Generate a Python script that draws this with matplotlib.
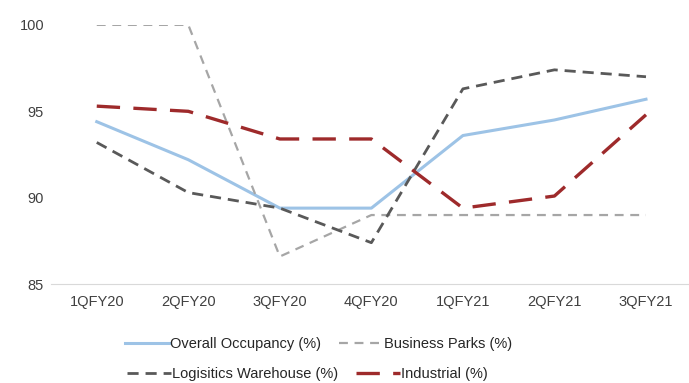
import matplotlib.pyplot as plt

plt.rcParams['font.family'] = ['Liberation Sans', 'DejaVu Sans']

quarters = ['1QFY20', '2QFY20', '3QFY20', '4QFY20', '1QFY21', '2QFY21', '3QFY21']
overall = [94.4, 92.2, 89.4, 89.4, 93.6, 94.5, 95.7]
business_parks = [100.0, 100.0, 86.6, 89.0, 89.0, 89.0, 89.0]
logistics = [93.2, 90.3, 89.4, 87.4, 96.3, 97.4, 97.0]
industrial = [95.3, 95.0, 93.4, 93.4, 89.4, 90.1, 94.8]

fig = plt.figure(figsize=(6.89, 3.83), dpi=100)
ax = fig.add_axes([0.074, 0.258, 0.93, 0.677])

x = range(len(quarters))
h1, = ax.plot(x, overall, color='#9DC3E6', lw=2.2, label='Overall Occupancy (%)')
h2, = ax.plot(x, business_parks, color='#A6A6A6', lw=1.6, dashes=(4, 3), label='Business Parks (%)')
h3, = ax.plot(x, logistics, color='#595959', lw=2.0, dashes=(4, 2.5), label='Logisitics Warehouse (%)')
h4, = ax.plot(x, industrial, color='#9E2A2B', lw=2.4, dashes=(7, 4), label='Industrial (%)')

ax.set_xlim(-0.5, 6.5)
ax.set_ylim(85, 100)
ax.set_yticks([85, 90, 95, 100])
ax.set_xticks(list(x))
ax.set_xticklabels(quarters)
ax.tick_params(length=0, labelsize=10.5, colors='#404040', pad=8)
ax.tick_params(axis='y', pad=5)
for s in ['top', 'right', 'left']:
    ax.spines[s].set_visible(False)
ax.spines['bottom'].set_color('#D9D9D9')

# two legend rows, each laid out on its own like the original
leg_kw = dict(ncol=2, frameon=False, fontsize=10.5, handlelength=3.0,
              handletextpad=0.1, columnspacing=1.2, labelcolor='#262626',
              borderpad=0, borderaxespad=0)
leg1 = fig.legend([h1, h2], [h1.get_label(), h2.get_label()],
                  loc='center left', bbox_to_anchor=(125 / 689, 1 - 344 / 383), **leg_kw)
leg2 = fig.legend([h3, h4], [h3.get_label(), h4.get_label()],
                  loc='center left', bbox_to_anchor=(127 / 689, 1 - 374 / 383), **leg_kw)

fig.savefig('out.png', dpi=100)
